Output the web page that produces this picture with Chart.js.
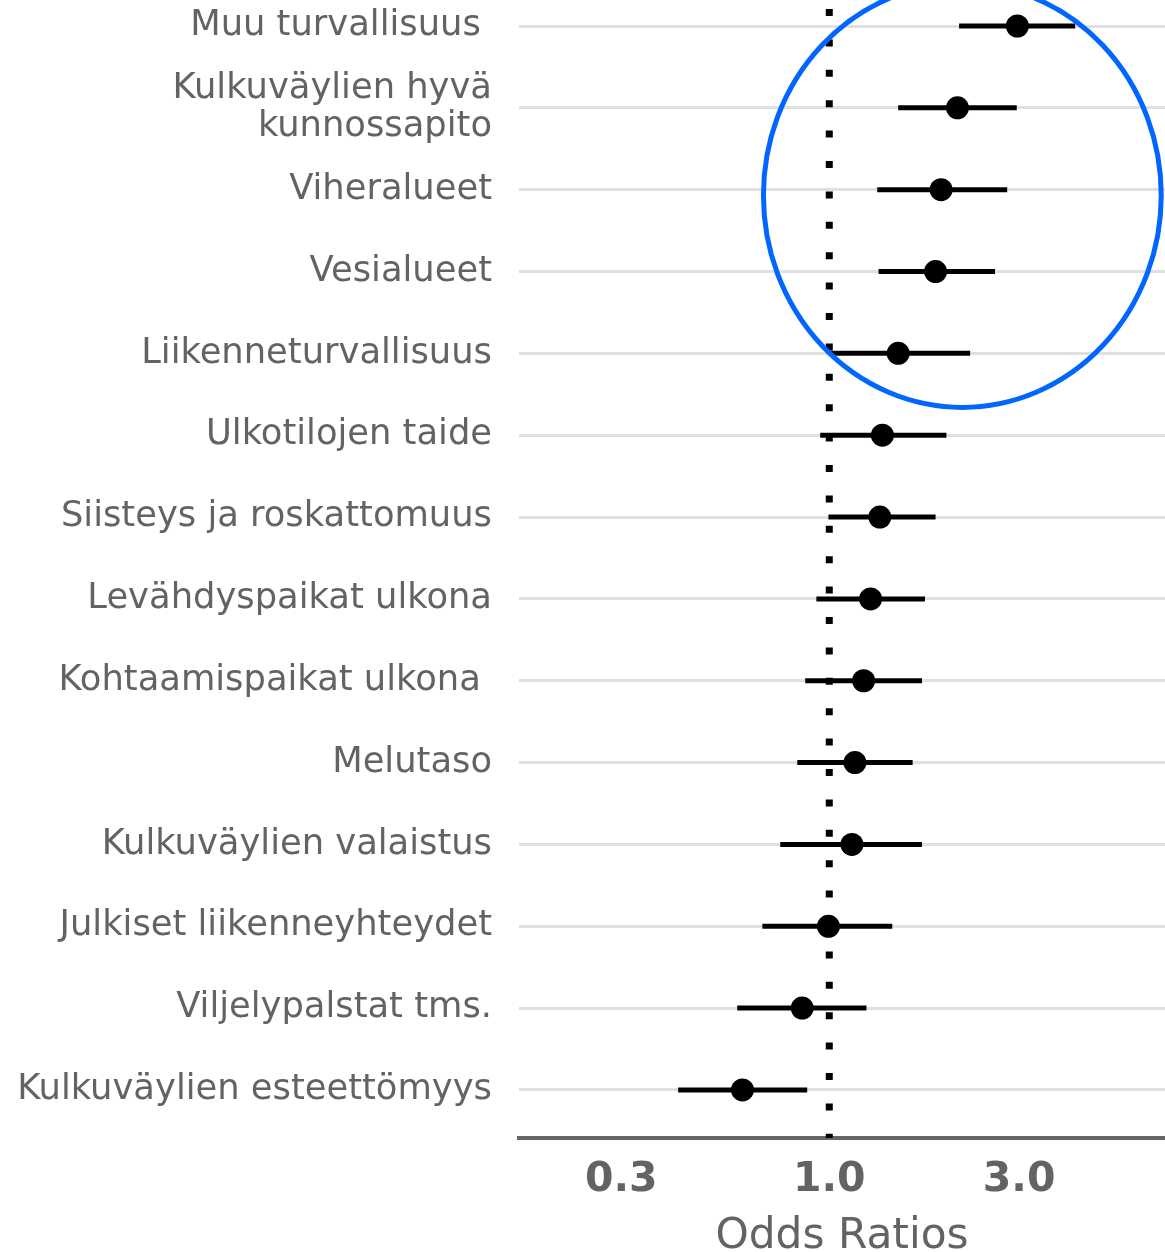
<!DOCTYPE html>
<html>
<head>
<meta charset="utf-8">
<script src="https://cdn.jsdelivr.net/npm/chart.js@4.4.0/dist/chart.umd.min.js"></script>
<style>
  html, body { margin: 0; padding: 0; background: #ffffff; overflow: hidden; }
  #wrap { width: 1165px; height: 1252px; position: relative; }
</style>
</head>
<body>
<div id="wrap"><canvas id="forestChart"></canvas></div>
<script>
// Categories, top to bottom (trailing spaces are in the original labels)
const categories = [
  "Muu turvallisuus ",
  ["Kulkuväylien hyvä", "kunnossapito"],
  "Viheralueet",
  "Vesialueet",
  "Liikenneturvallisuus",
  "Ulkotilojen taide",
  "Siisteys ja roskattomuus",
  "Levähdyspaikat ulkona",
  "Kohtaamispaikat ulkona ",
  "Melutaso",
  "Kulkuväylien valaistus",
  "Julkiset liikenneyhteydet",
  "Viljelypalstat tms.",
  "Kulkuväylien esteettömyys"
];

// Odds ratios and 95% confidence limits
const oddsRatios = [2.97, 2.10, 1.91, 1.85, 1.49, 1.36, 1.34, 1.27, 1.22, 1.16, 1.14, 0.995, 0.855, 0.605];
const ciLower    = [2.12, 1.49, 1.32, 1.33, 1.00, 0.949, 0.995, 0.928, 0.870, 0.831, 0.753, 0.679, 0.587, 0.417];
const ciUpper    = [4.15, 2.96, 2.80, 2.61, 2.26, 1.97, 1.85, 1.74, 1.71, 1.62, 1.71, 1.44, 1.24, 0.880];

// x axis ticks and reference value
const xTicks = [0.3, 1.0, 3.0];
const referenceValue = 1.0;

// Highlight circle round the top rows (in data units)
const circleCenterOR = 2.16;
const circleCenterRow = 2.07;
const circleRightOR = 6.83;
const circleRadiusRows = 2.59;

const xMin = 0.166, xMax = 6.98;
const yMin = -0.3177, yMax = 13.587;

const fontFamily = "'DejaVu Sans', sans-serif";
const textGrey = "#636363";

// Build datasets
const datasets = [];

// Point estimates (on top)
datasets.push({
  type: "scatter",
  data: oddsRatios.map((v, i) => ({ x: v, y: i })),
  backgroundColor: "#000000",
  borderWidth: 0,
  pointRadius: 11.5,
  order: 0
});

// Confidence intervals, one short line each
ciLower.forEach((lo, i) => {
  datasets.push({
    type: "line",
    data: [{ x: lo, y: i }, { x: ciUpper[i], y: i }],
    borderColor: "#000000",
    borderWidth: 5,
    borderCapStyle: "butt",
    pointRadius: 0,
    fill: false,
    order: 1
  });
});

// Dotted reference line at OR = 1
datasets.push({
  type: "line",
  data: [{ x: referenceValue, y: yMin }, { x: referenceValue, y: yMax }],
  borderColor: "#000000",
  borderWidth: 7,
  borderDash: [7, 23.4],
  borderDashOffset: 21.4,
  borderCapStyle: "butt",
  pointRadius: 0,
  fill: false,
  order: 2
});

// Plugin that draws the blue highlight circle
const highlightCircle = {
  id: "highlightCircle",
  afterDraw(chart) {
    const xs = chart.scales.x;
    const ys = chart.scales.y;
    const cx = xs.getPixelForValue(circleCenterOR);
    const cy = ys.getPixelForValue(circleCenterRow);
    const rx = xs.getPixelForValue(circleRightOR) - cx;
    const ry = ys.getPixelForValue(circleCenterRow + circleRadiusRows) - cy;
    const ctx = chart.ctx;
    ctx.save();
    ctx.beginPath();
    ctx.ellipse(cx, cy, rx, ry, 0, 0, Math.PI * 2);
    ctx.strokeStyle = "#0066ff";
    ctx.lineWidth = 5;
    ctx.stroke();
    ctx.restore();
  }
};

new Chart(document.getElementById("forestChart").getContext("2d"), {
  type: "scatter",
  data: { datasets: datasets },
  options: {
    responsive: true,
    maintainAspectRatio: false,
    animation: false,
    layout: { padding: 0, autoPadding: false },
    plugins: {
      legend: { display: false },
      tooltip: { enabled: false }
    },
    scales: {
      x: {
        type: "logarithmic",
        position: "bottom",
        min: xMin,
        max: xMax,
        afterBuildTicks: (scale) => {
          scale.ticks = xTicks.map((v) => ({ value: v }));
        },
        afterFit: (scale) => {
          scale.height = 114;
          scale.paddingLeft = 0;
          scale.paddingRight = 0;
        },
        grid: { display: false, drawTicks: false },
        border: { display: true, color: "#666666", width: 4 },
        ticks: {
          padding: 18,
          color: textGrey,
          maxRotation: 0,
          autoSkip: false,
          font: { family: fontFamily, size: 41, weight: "bold" },
          callback: (value) => Number(value).toFixed(1)
        },
        title: {
          display: true,
          text: "Odds Ratios",
          color: textGrey,
          padding: { top: 0, bottom: -2 },
          font: { family: fontFamily, size: 42.3, lineHeight: 0.8 }
        }
      },
      y: {
        type: "linear",
        reverse: true,
        min: yMin,
        max: yMax,
        afterBuildTicks: (scale) => {
          scale.ticks = categories.map((c, i) => ({ value: i }));
        },
        afterFit: (scale) => {
          scale.width = 519;
          scale.paddingTop = 0;
          scale.paddingBottom = 0;
        },
        grid: { color: "#e0e0e0", lineWidth: 3, drawTicks: false },
        border: { display: false },
        ticks: {
          padding: 27,
          color: textGrey,
          autoSkip: false,
          font: { family: fontFamily, size: 35.3, lineHeight: 1.08 },
          callback: (value) => categories[value]
        }
      }
    }
  },
  plugins: [highlightCircle]
});
</script>
</body>
</html>
